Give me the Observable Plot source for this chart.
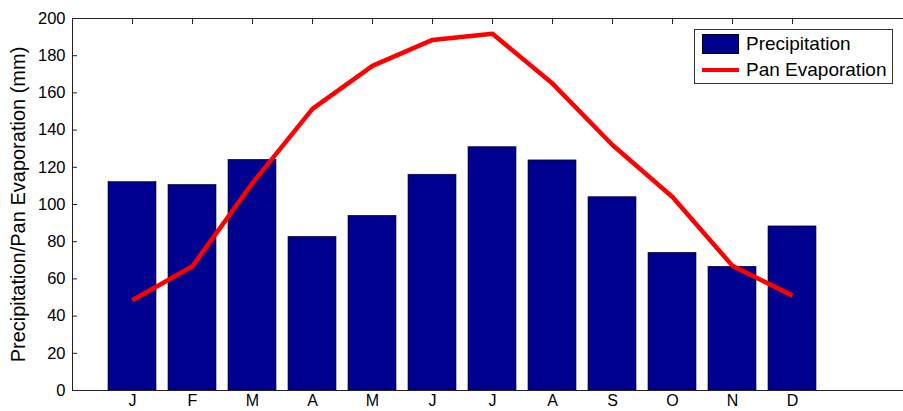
<!DOCTYPE html>
<html>
<head>
<meta charset="utf-8">
<script src="https://cdn.jsdelivr.net/npm/d3@7"></script>
<script src="https://cdn.jsdelivr.net/npm/@observablehq/plot@0.6"></script>
<style>
  body { margin: 0; background: #fff; }
  #wrap { position: relative; width: 903px; height: 411px; font-family: "Liberation Sans", Arial, sans-serif; }
  #legend { position: absolute; left: 694px; top: 29px; width: 197px; height: 53px; border: 1px solid #333; background: #fff; }
  .item { position: absolute; left: 0; font-size: 19px; line-height: 22px; color: #000; }
  .sw { position: absolute; left: 7px; }
  .lbl { position: absolute; left: 51px; white-space: nowrap; }
</style>
</head>
<body>
<div id="wrap">
  <div id="chart"></div>
  <div id="legend">
    <div class="item" style="top:3px"><div class="sw" style="top:1px;width:37px;height:20px;background:#00008f;border:1px solid #000;box-sizing:border-box"></div><div class="lbl" style="top:0px">Precipitation</div></div>
    <div class="item" style="top:29px"><div class="sw" style="top:9px;width:37px;height:4px;background:#ff0000"></div><div class="lbl" style="top:0px">Pan Evaporation</div></div>
  </div>
</div>
<script>
const months = ["J","F","M","A","M","J","J","A","S","O","N","D"];
const monthIndex = [1,2,3,4,5,6,7,8,9,10,11,12];
const precipitation = [112, 110.5, 124, 82.6, 93.9, 116, 130.8, 123.7, 103.9, 74, 66.5, 88.2];
const panEvaporation = [48.5, 66.8, 111.5, 151.4, 174.5, 188.5, 191.8, 165, 132, 104, 67, 51];
const yTicks = [0,20,40,60,80,100,120,140,160,180,200];

const rows = monthIndex.map((m, i) => ({m, label: months[i], p: precipitation[i], e: panEvaporation[i]}));

const chart = Plot.plot({
  width: 903,
  height: 411,
  marginLeft: 72,
  marginRight: 0,
  marginTop: 18,
  marginBottom: 21,
  style: {fontFamily: "'Liberation Sans', Arial, sans-serif", fontSize: "16px", color: "#000", background: "#fff"},
  x: {type: "linear", domain: [0, 13.85]},
  y: {domain: [0, 200]},
  marks: [
    Plot.rectY(rows, {x1: d => d.m - 0.4, x2: d => d.m + 0.4, y1: 0, y2: "p", fill: "#00008f", stroke: "#000", strokeWidth: 0.6}),
    Plot.line(rows, {x: "m", y: "e", stroke: "#ff0000", strokeWidth: 4.5, strokeLinejoin: "round", strokeLinecap: "butt"}),
    Plot.ruleY([0], {stroke: "#222", strokeWidth: 1}),
    Plot.ruleY([200], {stroke: "#222", strokeWidth: 1}),
    Plot.ruleX([0], {stroke: "#222", strokeWidth: 1}),
    Plot.axisY({ticks: yTicks, tickSize: -5, tickPadding: 12, fontSize: 16.5, label: null, stroke: "#222"}),
    Plot.axisY({ticks: [], tickSize: 0, label: "Precipitation/Pan Evaporation (mm)", labelAnchor: "center", labelArrow: "none", labelOffset: 62, fontSize: 20}),
    Plot.axisX({anchor: "bottom", ticks: monthIndex, tickFormat: i => months[i - 1], tickSize: 0, tickPadding: 4, fontSize: 16, label: null}),
    Plot.axisX({anchor: "top", ticks: monthIndex, tickFormat: () => "", tickSize: -5, label: null, stroke: "#222"})
  ]
});
document.getElementById("chart").appendChild(chart);
</script>
</body>
</html>
